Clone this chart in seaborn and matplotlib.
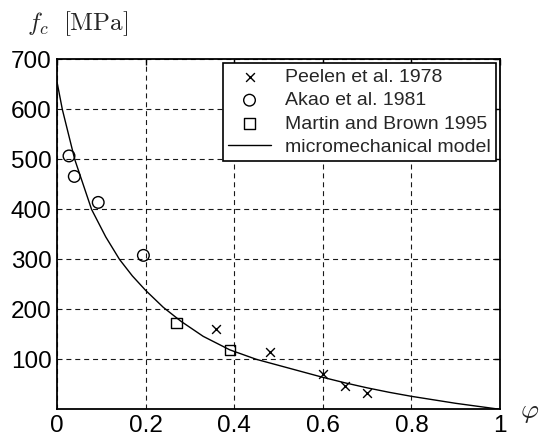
import numpy as np
import pandas as pd
import seaborn as sns
import matplotlib.pyplot as plt

peelen_phi = [0.36, 0.48, 0.60, 0.65, 0.70]
peelen_fc = [161, 114, 70, 46, 32]

akao_phi = [0.027, 0.039, 0.093, 0.195]
akao_fc = [507, 466, 414, 308]

martin_phi = [0.27, 0.39]
martin_fc = [173, 119]

# micromechanical model curve
model_phi = [0, 0.012, 0.04, 0.078, 0.11, 0.141, 0.17, 0.2, 0.24, 0.28, 0.33, 0.39,
             0.45, 0.5, 0.55, 0.6, 0.65, 0.7, 0.75, 0.8, 0.85, 0.9, 0.95, 1.0]
model_fc = [655, 600, 500, 400, 345, 300, 267, 238, 204, 176, 146, 119,
            100, 88, 76, 64, 53, 43, 34, 26, 19, 12, 6, 0]

x_ticks = [0, 0.2, 0.4, 0.6, 0.8, 1.0]
x_ticklabels = ['0', '0.2', '0.4', '0.6', '0.8', '1']
y_ticks = [100, 200, 300, 400, 500, 600, 700]

sns.set_style('white')
plt.rcParams['font.family'] = ['Liberation Sans', 'DejaVu Sans']
plt.rcParams['mathtext.fontset'] = 'cm'

fig = plt.figure(figsize=(5.39, 4.38), dpi=100)
ax = fig.add_axes([0.1058, 0.0655, 0.8218, 0.7987])

sns.scatterplot(x=peelen_phi, y=peelen_fc, marker='x', s=40, color='black',
                linewidth=1.0, label='Peelen et al. 1978', ax=ax, zorder=3)
sns.scatterplot(x=akao_phi, y=akao_fc, marker='o', s=70, facecolor='none',
                edgecolor='black', linewidth=1.0, label='Akao et al. 1981', ax=ax, zorder=3)
sns.scatterplot(x=martin_phi, y=martin_fc, marker='s', s=55, facecolor='none',
                edgecolor='black', linewidth=1.0, label='Martin and Brown 1995', ax=ax, zorder=3)
sns.lineplot(x=model_phi, y=model_fc, color='black', linewidth=1.0, sort=False,
             label='micromechanical model', ax=ax, zorder=2)

ax.set_xlim(0, 1)
ax.set_ylim(0, 700)
ax.set_xticks(x_ticks)
ax.set_xticklabels(x_ticklabels)
ax.set_yticks(y_ticks)
ax.tick_params(direction='in', length=4, width=1, labelsize=17.5, colors='black',
               pad=4, top=True, right=True)
ax.grid(True, color='black', linestyle=(0, (4.5, 3.5)), linewidth=0.8, alpha=0.9)
for s in ax.spines.values():
    s.set_visible(True)
    s.set_color('black')
    s.set_linewidth(1.3)

leg = ax.legend(loc='upper right', fontsize=14, frameon=True, fancybox=False,
                framealpha=1, edgecolor='black', borderaxespad=0.2,
                handlelength=2.2, handletextpad=0.75, labelspacing=0.3,
                borderpad=0.25)
leg.get_frame().set_linewidth(1.2)

fig.text(0.05, 0.945, r'$f_c\ \ \mathrm{[MPa]}$', fontsize=18, va='center', ha='left')
fig.text(0.982, 0.06, r'$\varphi$', fontsize=20, va='center', ha='center')

fig.savefig('out.png', dpi=100)
